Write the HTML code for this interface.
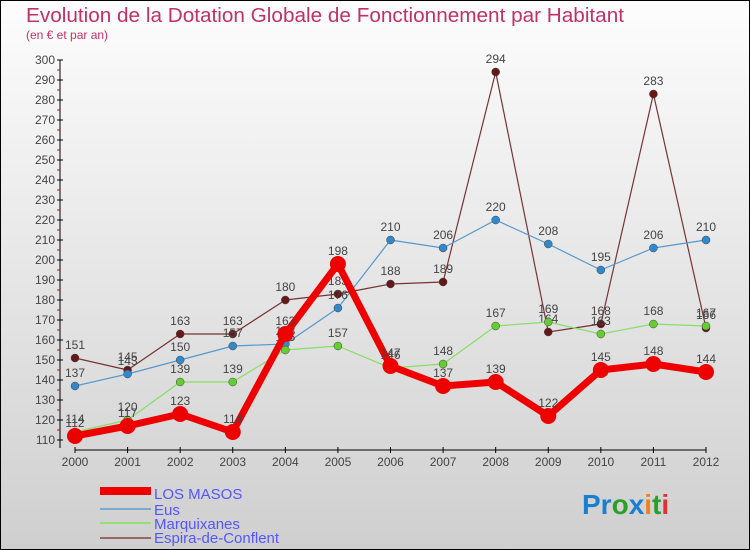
<!DOCTYPE html>
<html><head><meta charset="utf-8"><style>
body{margin:0;width:750px;height:550px;overflow:hidden}
svg{display:block;font-family:"Liberation Sans Narrow","Liberation Sans",sans-serif}
</style></head><body>
<svg id="c" width="750" height="550">
<defs><linearGradient id="bg" x1="0" y1="0" x2="0" y2="1"><stop offset="0" stop-color="#fdfdfd"/><stop offset="1" stop-color="#cfcfcf"/></linearGradient></defs>
<rect x="0.5" y="0.5" width="749" height="549" fill="url(#bg)" stroke="#000"/>
<text x="26" y="22" font-size="20" fill="#c0306a" textLength="598" lengthAdjust="spacingAndGlyphs">Evolution de la Dotation Globale de Fonctionnement par Habitant</text>
<text x="26" y="39" font-size="12" fill="#c0306a">(en € et par an)</text>
<g id="axes"></g><g id="series"></g>
<g>
<rect x="100" y="487" width="51" height="8" fill="#e00"/>
<text x="154" y="499" font-size="15" fill="#5555ff">LOS MASOS</text>
<rect x="100" y="508" width="51" height="2" fill="#7aaad0"/>
<text x="154" y="515" font-size="15" fill="#5555ff">Eus</text>
<rect x="100" y="522" width="51" height="2" fill="#99dd77"/>
<text x="154" y="529" font-size="15" fill="#5555ff">Marquixanes</text>
<rect x="100" y="537" width="51" height="2" fill="#996666"/>
<text x="154" y="543" font-size="15" fill="#5555ff">Espira-de-Conflent</text>
</g>
<text x="582" y="514" font-size="28" font-weight="bold"><tspan fill="#1a7fd0">Pr</tspan><tspan fill="#2aa02a">o</tspan><tspan fill="#1a7fd0">x</tspan><tspan fill="#f08020">i</tspan><tspan fill="#2aa02a">t</tspan><tspan fill="#e03030">i</tspan></text>
</svg>
<script>
const years=[2000,2001,2002,2003,2004,2005,2006,2007,2008,2009,2010,2011,2012];
const losMasos=[112,117,123,114,163,198,147,137,139,122,145,148,144];
const eus=[137,143,150,157,158,176,210,206,220,208,195,206,210];
const marquixanes=[114,120,139,139,155,157,146,148,167,169,163,168,167];
const espira=[151,145,163,163,180,183,188,189,294,164,168,283,166];
const yTicks=[110,120,130,140,150,160,170,180,190,200,210,220,230,240,250,260,270,280,290,300];
const NS="http://www.w3.org/2000/svg";
const X0=75,X1=706,Y0=440,Y1=60,VMIN=110,VMAX=300;
const x=i=>X0+(X1-X0)*i/(years.length-1);
const y=v=>Y0-(Y0-Y1)*(v-VMIN)/(VMAX-VMIN);
function mk(t,a,p){const e=document.createElementNS(NS,t);for(const k in a)e.setAttribute(k,a[k]);p.appendChild(e);return e;}
const ax=document.getElementById('axes');
const yl=mk('line',{x1:60,y1:Y1,x2:60,y2:Y0+8,stroke:'#000'},ax);


yTicks.forEach(v=>{
 mk('line',{x1:57,y1:y(v),x2:63,y2:y(v),stroke:'#000'},ax);
 if(v<VMAX) mk('line',{x1:57,y1:y(v+5),x2:60,y2:y(v+5),stroke:'#e00'},ax);
 const t=mk('text',{x:55,y:y(v)+4,'font-size':12,fill:'#444','text-anchor':'end'},ax);t.textContent=v;
 
 
});
const xl=mk('line',{x1:X0,y1:450,x2:X1,y2:450,stroke:'#000'},ax);


years.forEach((yr,i)=>{
 mk('line',{x1:x(i),y1:447,x2:x(i),y2:453,stroke:'#000'},ax);
 const t=mk('text',{x:x(i),y:466,'font-size':12,fill:'#444','text-anchor':'middle'},ax);t.textContent=yr;
 
 
});
const sg=document.getElementById('series');
function series(d,name,col,w,r,dot){
 const g=mk('g',{},sg);
 
 
 const p=mk('polyline',{points:d.map((v,i)=>x(i)+','+y(v)).join(' '),fill:'none',stroke:col,'stroke-width':w,'stroke-linejoin':'round'},g);
 
 
 d.forEach((v,i)=>{
  const c=mk('circle',{cx:x(i),cy:y(v),r:r,fill:dot,stroke:'#444','stroke-width':w>3?0:0.5},g);
  
  
  const t=mk('text',{x:x(i),y:y(v)-9,'font-size':12,fill:'#444','text-anchor':'middle'},g);t.textContent=v;
  
  
 });
}
series(espira,'espira-de-conflent','#773333',1.2,4,'#661818');
series(eus,'eus','#5599cc',1.2,4,'#3388cc');
series(marquixanes,'marquixanes','#88dd66',1.2,4,'#66cc33');
series(losMasos,'los-masos','#ee0000',7,8,'#ee0000');
</script>
</body></html>
